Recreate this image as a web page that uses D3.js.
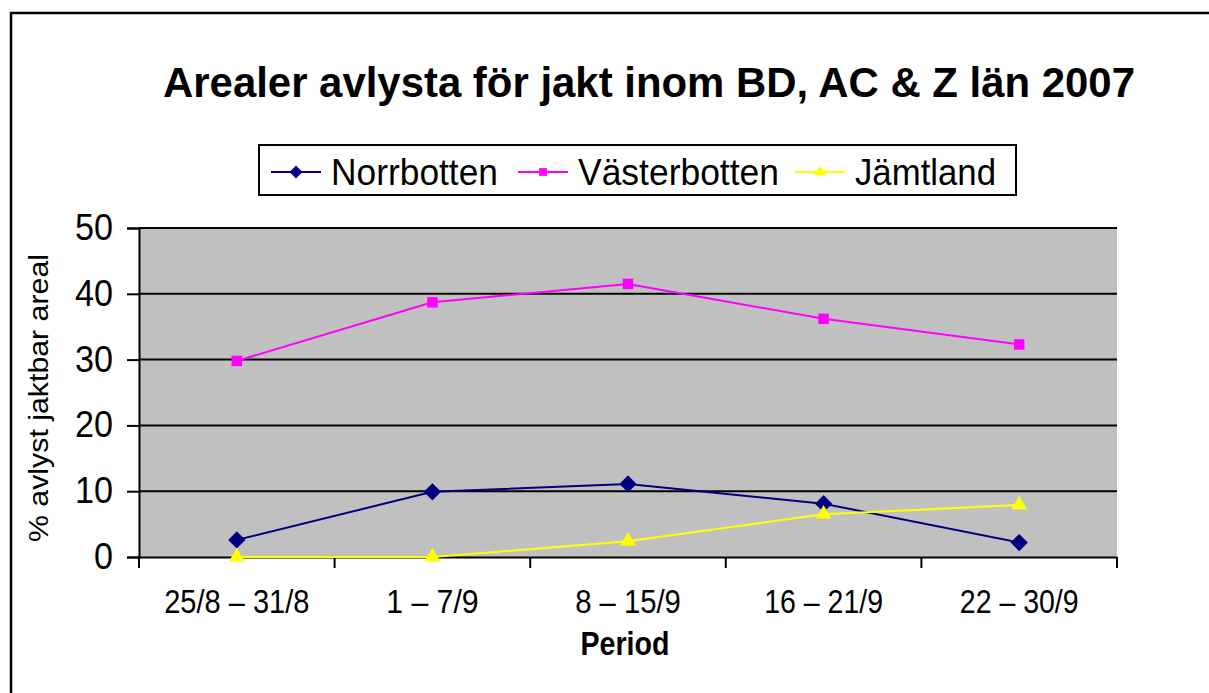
<!DOCTYPE html>
<html>
<head>
<meta charset="utf-8">
<script src="https://cdn.jsdelivr.net/npm/d3@7"></script>
<style>
  html, body { margin: 0; padding: 0; background: #fff; }
  svg { display: block; font-family: "Liberation Sans", Arial, sans-serif; }
</style>
</head>
<body>
<svg id="chart" width="1209" height="693"></svg>
<script>
const periods = ["25/8 – 31/8", "1 – 7/9", "8 – 15/9", "16 – 21/9", "22 – 30/9"];
const norrbotten = [2.6, 9.9, 11.1, 8.1, 2.2];
const vasterbotten = [29.8, 38.7, 41.5, 36.2, 32.3];
const jamtland = [0, 0, 2.4, 6.5, 7.9];
const yTicks = [0, 10, 20, 30, 40, 50];

const series = [
    { name: "Norrbotten", values: norrbotten, color: "#000080", shape: "diamond" },
    { name: "Västerbotten", values: vasterbotten, color: "#ff00ff", shape: "square" },
    { name: "Jämtland", values: jamtland, color: "#ffff00", shape: "triangle" }
];

const svg = d3.select("#chart");

// frame (runs off the right and bottom like the picture)
svg.append("rect")
    .attr("x", 11).attr("y", 13)
    .attr("width", 1300).attr("height", 800)
    .attr("fill", "#fff")
    .attr("stroke", "#000")
    .attr("stroke-width", 2.5);

const plot = { left: 139, right: 1117, top: 228, bottom: 557 };

const x = d3.scaleBand()
    .domain(periods)
    .range([plot.left, plot.right]);

const y = d3.scaleLinear()
    .domain([0, 50])
    .range([plot.bottom, plot.top]);

// title
svg.append("text")
    .attr("x", 649).attr("y", 97)
    .attr("text-anchor", "middle")
    .attr("font-size", 43)
    .attr("font-weight", "bold")
    .attr("textLength", 972)
    .attr("lengthAdjust", "spacingAndGlyphs")
    .text("Arealer avlysta för jakt inom BD, AC & Z län 2007");

// plot background
svg.append("rect")
    .attr("x", plot.left).attr("y", plot.top)
    .attr("width", plot.right - plot.left)
    .attr("height", plot.bottom - plot.top)
    .attr("fill", "#c0c0c0");

// gridlines
svg.append("g")
    .selectAll("line")
    .data(yTicks.filter(d => d > 0))
    .enter().append("line")
    .attr("x1", plot.left).attr("x2", plot.right)
    .attr("y1", d => y(d)).attr("y2", d => y(d))
    .attr("stroke", "#000")
    .attr("stroke-width", 2);

// y axis
const yAxis = svg.append("g")
    .attr("transform", `translate(${plot.left},0)`)
    .call(d3.axisLeft(y).tickValues(yTicks).tickSize(12).tickPadding(14));
yAxis.select(".domain").attr("stroke-width", 2);
yAxis.selectAll(".tick line").attr("stroke-width", 2);
yAxis.selectAll("text")
    .attr("font-size", 36)
    .attr("font-family", "Liberation Sans, Arial, sans-serif")
    .attr("fill", "#000")
    .attr("textLength", d => String(d).length * 19)
    .attr("lengthAdjust", "spacingAndGlyphs");

// x axis with ticks at category borders
const xAxis = svg.append("g")
    .attr("transform", `translate(0,${plot.bottom})`)
    .call(d3.axisBottom(x).tickSize(0).tickPadding(33));
xAxis.select(".domain").attr("stroke-width", 2);
xAxis.selectAll("text")
    .attr("font-size", 33)
    .attr("font-family", "Liberation Sans, Arial, sans-serif")
    .attr("fill", "#000")
    .attr("textLength", d => d.length * 13.2)
    .attr("lengthAdjust", "spacingAndGlyphs");

const borders = periods.map(p => x(p)).concat([plot.right]);
xAxis.selectAll(".border")
    .data(borders)
    .enter().append("line")
    .attr("class", "border")
    .attr("x1", d => d).attr("x2", d => d)
    .attr("y1", 0).attr("y2", 11)
    .attr("stroke", "#000")
    .attr("stroke-width", 2);

// axis titles
svg.append("text")
    .attr("x", 625).attr("y", 655)
    .attr("text-anchor", "middle")
    .attr("font-size", 33)
    .attr("font-weight", "bold")
    .attr("textLength", 89)
    .attr("lengthAdjust", "spacingAndGlyphs")
    .text("Period");

svg.append("text")
    .attr("transform", "translate(48,398) rotate(-90)")
    .attr("text-anchor", "middle")
    .attr("font-size", 27)
    .attr("textLength", 288)
    .attr("lengthAdjust", "spacingAndGlyphs")
    .text("% avlyst jaktbar areal");

// symbols
const diamondType = d3.symbolDiamond2 || d3.symbolDiamond;
const shapeType = {
    diamond: diamondType,
    square: d3.symbolSquare,
    triangle: d3.symbolTriangle
};
const symbolFor = {
    diamond: d3.symbol().type(diamondType).size(190),
    square: d3.symbol().type(d3.symbolSquare).size(110),
    triangle: d3.symbol().type(d3.symbolTriangle).size(110)
};

const cx = (d, i) => x(periods[i]) + x.bandwidth() / 2;

const line = d3.line()
    .x(cx)
    .y(d => y(d));

const seriesG = svg.append("g")
    .selectAll("g")
    .data(series)
    .enter().append("g");

seriesG.append("path")
    .attr("d", d => line(d.values))
    .attr("fill", "none")
    .attr("stroke", d => d.color)
    .attr("stroke-width", 2);

seriesG.each(function (s) {
    d3.select(this).selectAll("path.marker")
        .data(s.values)
        .enter().append("path")
        .attr("class", "marker")
        .attr("d", symbolFor[s.shape])
        .attr("transform", (d, i) => `translate(${cx(d, i)},${y(d)})`)
        .attr("fill", s.color);
});

// legend
const legend = svg.append("g");
legend.append("rect")
    .attr("x", 259).attr("y", 145)
    .attr("width", 757).attr("height", 50)
    .attr("fill", "#fff")
    .attr("stroke", "#000")
    .attr("stroke-width", 2);

const legendX = [271, 518, 795];
const legendTextLen = [167, 201, 141];

const item = legend.selectAll("g.item")
    .data(series)
    .enter().append("g")
    .attr("class", "item")
    .attr("transform", (d, i) => `translate(${legendX[i]},172)`);

item.append("line")
    .attr("x1", 0).attr("x2", 50)
    .attr("stroke", d => d.color)
    .attr("stroke-width", 2);

item.append("path")
    .attr("d", d => d3.symbol().type(shapeType[d.shape]).size(d.shape === "diamond" ? 110 : 60)())
    .attr("transform", "translate(25,0)")
    .attr("fill", d => d.color);

item.append("text")
    .attr("x", 60).attr("y", 13)
    .attr("font-size", 36)
    .attr("textLength", (d, i) => legendTextLen[i])
    .attr("lengthAdjust", "spacingAndGlyphs")
    .text(d => d.name);
</script>
</body>
</html>
